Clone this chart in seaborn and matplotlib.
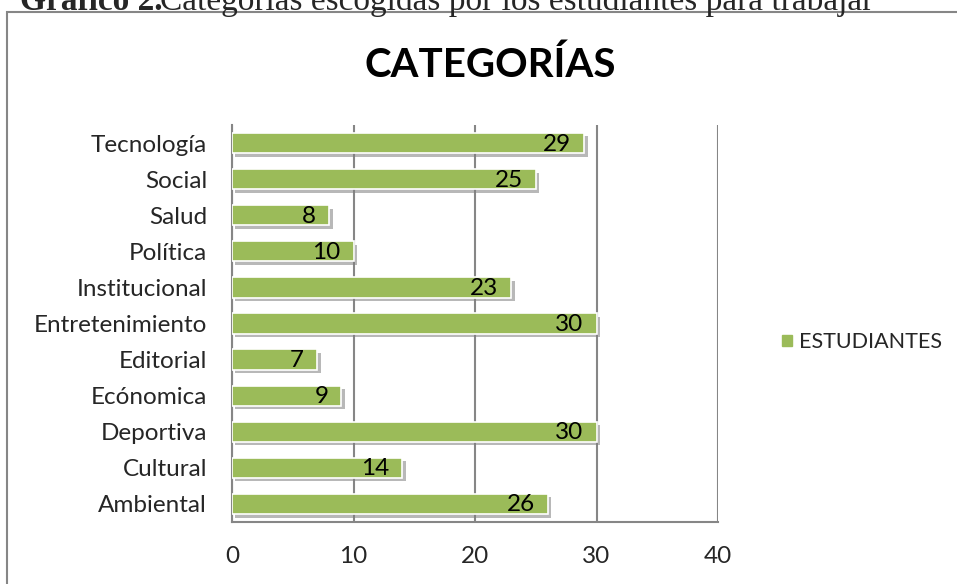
import pandas as pd
import matplotlib.pyplot as plt
import matplotlib.patheffects as pe
from matplotlib.patches import Rectangle
import seaborn as sns

# datos del gráfico
categorias = ['Tecnología', 'Social', 'Salud', 'Política', 'Institucional',
              'Entretenimiento', 'Editorial', 'Ecónomica', 'Deportiva',
              'Cultural', 'Ambiental']
estudiantes = [29, 25, 8, 10, 23, 30, 7, 9, 30, 14, 26]
serie = 'ESTUDIANTES'
ticks_x = [0, 10, 20, 30, 40]

dados = pd.DataFrame({'categoria': categorias, 'valor': estudiantes, 'serie': serie})

verde = '#9BBB59'
gris = '#868686'

sns.set_style('white')
plt.rcParams['font.family'] = ['Lato', 'DejaVu Sans']

fig = plt.figure(figsize=(9.57, 5.84), dpi=100)
ax = fig.add_axes([232 / 957, 1 - 522 / 584, 486 / 957, 397 / 584])

sns.barplot(data=dados, y='categoria', x='valor', hue='serie', palette=[verde],
            orient='h', width=0.56, saturation=1, ax=ax, legend=False, zorder=3,
            edgecolor='white', linewidth=1.2)

for p in ax.patches:
    p.set_path_effects([pe.SimplePatchShadow(offset=(2.5, -2.5), shadow_rgbFace='#7f7f7f', alpha=0.55),
                        pe.Normal()])
    ax.annotate(f'{int(p.get_width())}', xy=(p.get_width(), p.get_y() + p.get_height() / 2),
                xytext=(-13, -1), textcoords='offset pixels', ha='right', va='center',
                fontsize=17.5, color='black', zorder=5)

ax.set_xlim(ticks_x[0], ticks_x[-1])
ax.set_ylim(len(categorias) - 0.5, -0.5)
ax.set_xticks(ticks_x)
ax.xaxis.grid(True, color=gris, linewidth=1.5, zorder=0)
ax.set_axisbelow(True)
ax.set_xlabel('')
ax.set_ylabel('')
ax.tick_params(axis='both', length=0, labelsize=17.5, colors='#262626')
ax.tick_params(axis='y', pad=18)
ax.tick_params(axis='x', pad=17)
for lado in ['top', 'right']:
    ax.spines[lado].set_visible(False)
for lado in ['left', 'bottom']:
    ax.spines[lado].set_color(gris)
    ax.spines[lado].set_linewidth(1.5)

# leyenda
ax.legend(handles=[Rectangle((0, 0), 1, 1, color=verde)], labels=[serie],
          loc='center left', bbox_to_anchor=(782 / 957, 1 - 342 / 584),
          bbox_transform=fig.transFigure, frameon=False, fontsize=15.5,
          borderpad=0, borderaxespad=0,
          handlelength=0.45, handleheight=0.45, handletextpad=0.35)

fig.text(490 / 957, 1 - 65 / 584, 'CATEGORÍAS', ha='center', va='center',
         fontsize=29, fontweight='bold', color='black')

# marco exterior
fig.patches.append(Rectangle((7 / 957, -0.1), 1.2, 1.1 - 12 / 584, transform=fig.transFigure,
                             fill=False, edgecolor=gris, linewidth=1.5))

# pie del documento (cortado arriba, como en la imagen original)
fig.text(20 / 957, 1 - 10 / 584, 'Gráfico 2.', ha='left', va='baseline',
         fontsize=24, fontweight='bold', family='Liberation Serif')
fig.text(160 / 957, 1 - 10 / 584, 'Categorías escogidas por los estudiantes para trabajar',
         ha='left', va='baseline', fontsize=24, family='Liberation Serif')

fig.savefig('out.png', dpi=100)
